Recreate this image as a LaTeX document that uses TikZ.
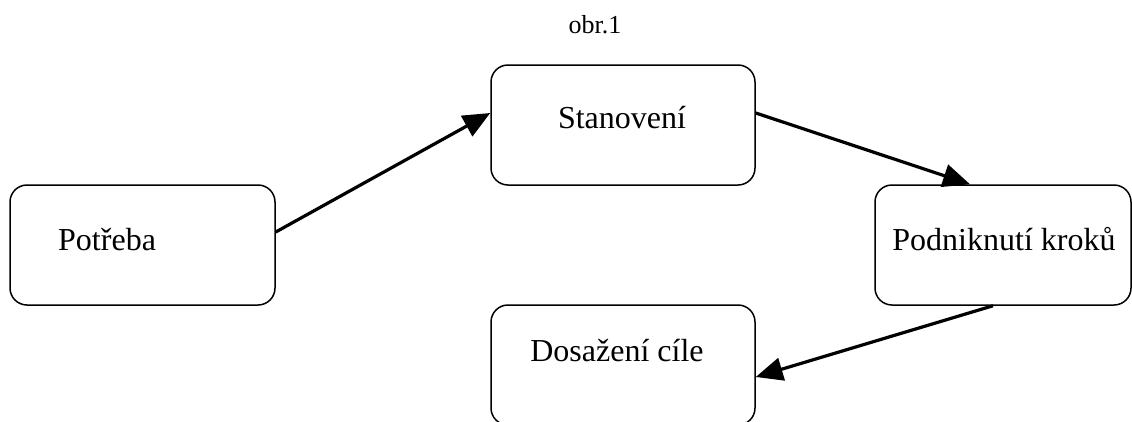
\documentclass[tikz,border=0pt]{standalone}
\usepackage{fontspec}
\setmainfont{Liberation Serif}
\usetikzlibrary{arrows.meta}
\begin{document}
\begin{tikzpicture}[x=1pt,y=-1pt,
  box/.style={draw,line width=1.5pt,rounded corners=17pt,minimum width=#1,minimum height=120pt,inner sep=0pt},
  box/.default=265pt,
  lbl/.style={anchor=base,font=\fontsize{32}{36}\selectfont,inner sep=0pt},
  conn/.style={line width=3.2pt,-{Triangle[length=27pt,width=23pt]}}]
\clip (0,0) rectangle (1132,421);
\node[box=265pt] (pot) at (142.5,245) {};
\node[box=264pt] (stan) at (623,125) {};
\node[box=256pt] (pod) at (1003,245) {};
\node[box=264pt] (dos) at (623,365) {};
\node[lbl,anchor=base west] (tpot) at (58,250) {Potřeba};
\node[lbl] (tstan) at (622,128) {Stanovení};
\node[lbl] (tpod) at (1004,250) {Podniknutí kroků};
\node[lbl] (tdos) at (617,361) {Dosažení cíle};
\node[anchor=base,font=\fontsize{26}{30}\selectfont,inner sep=0pt] (title) at (595,33) {obr.1};
\draw[conn] ([yshift=13pt]pot.east) -- ([yshift=12pt]stan.west);
\draw[conn] ([yshift=12pt]stan.east) -- ([xshift=-33pt]pod.north);
\draw[conn] ([xshift=-10pt]pod.south) -- ([yshift=-12pt]dos.east);
\end{tikzpicture}
\end{document}
